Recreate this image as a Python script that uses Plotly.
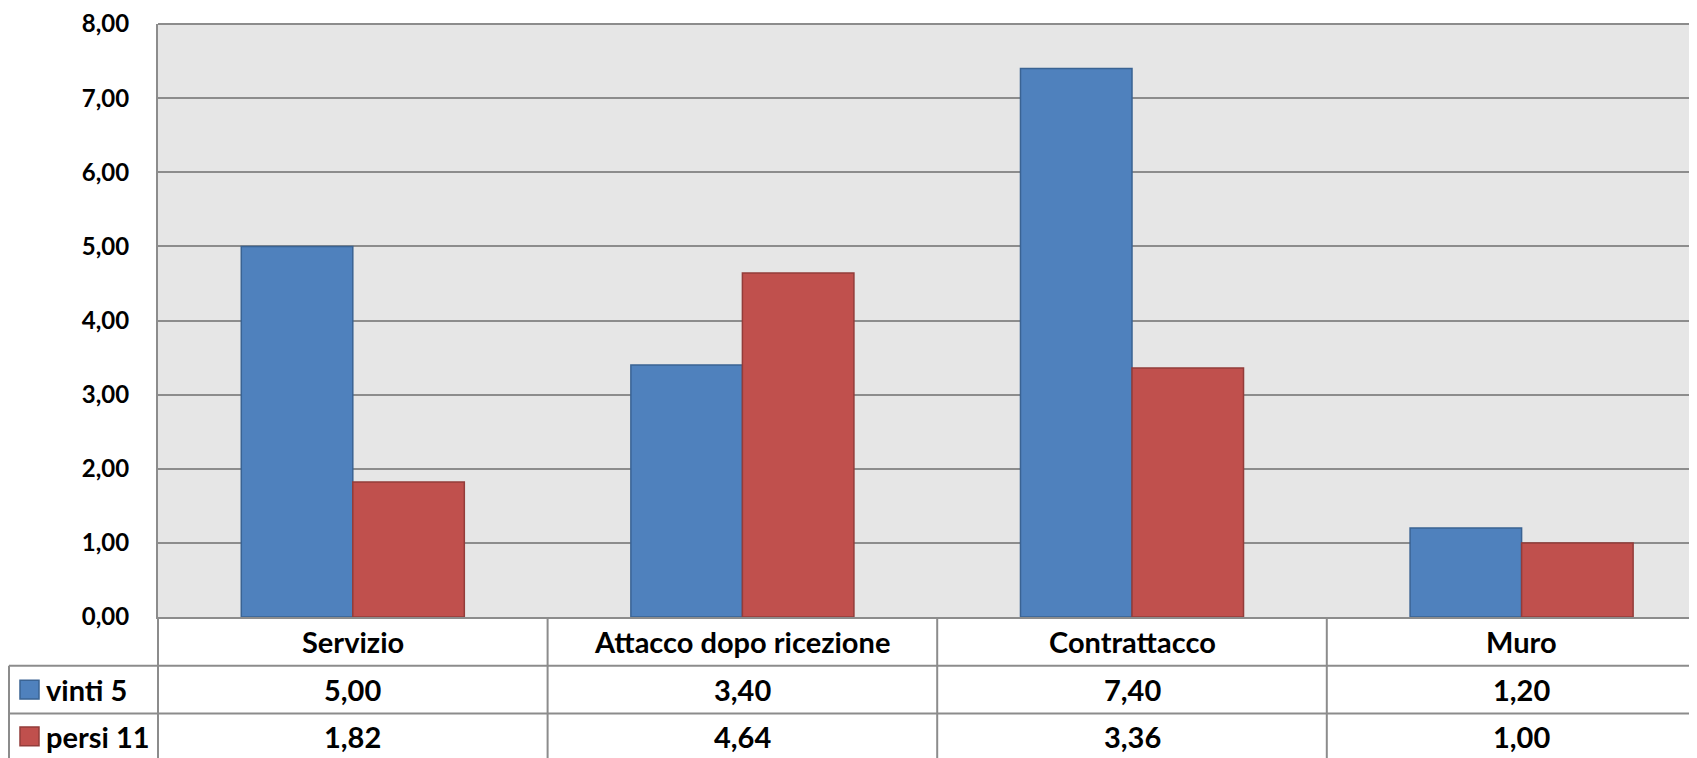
import plotly.graph_objects as go

# ---- data ----
categories = ["Servizio", "Attacco dopo ricezione", "Contrattacco", "Muro"]
series_names = ["vinti 5", "persi 11"]
vinti = [5.00, 3.40, 7.40, 1.20]
persi = [1.82, 4.64, 3.36, 1.00]
y_ticks = [0, 1, 2, 3, 4, 5, 6, 7, 8]

series_values = [vinti, persi]
fill_colors = ["#4F81BD", "#C0504D"]
line_colors = ["#3A6393", "#933C3A"]

# ---- geometry (page has an 8px body margin) ----
OFF = 8
W, H = 1697 - OFF, 758 - OFF
ML, MR, MT, MB = 158 - OFF, 0, 21 - OFF, 758 - 617
plot_w = W - ML - MR
plot_h = H - MT - MB
col_px = 389.6
x_max = -0.5 + plot_w / col_px

def px_x(vx):
    return (vx - OFF - ML) / plot_w

def px_y(vy):
    return (H - MB - (vy - OFF)) / plot_h

def fmt(v):
    return f"{v:.2f}".replace(".", ",")

GRID = "#8C8C8C"
FONT = "Lato"
TSIZE = 29

fig = go.Figure()
for name, vals, fc, lc in zip(series_names, series_values, fill_colors, line_colors):
    fig.add_trace(go.Bar(
        x=categories, y=vals, name=name,
        marker=dict(color=fc, line=dict(color=lc, width=1.5)),
        hoverinfo="skip",
    ))

shapes = []
annotations = []

# top border of plot area (gridline at the max)
shapes.append(dict(type="line", xref="paper", yref="paper", layer="below",
                   x0=0, x1=1.01, y0=1, y1=1, line=dict(color=GRID, width=2)))

# table horizontal lines
for vy in (666, 714):
    shapes.append(dict(type="line", xref="paper", yref="paper",
                       x0=px_x(9), x1=1.01, y0=px_y(vy), y1=px_y(vy),
                       line=dict(color=GRID, width=2)))
# table left edge
shapes.append(dict(type="line", xref="paper", yref="paper",
                   x0=px_x(9), x1=px_x(9), y0=px_y(666), y1=px_y(770),
                   line=dict(color=GRID, width=2)))
# axis extension down through the table
shapes.append(dict(type="line", xref="paper", yref="paper",
                   x0=0, x1=0, y0=px_y(617), y1=px_y(770),
                   line=dict(color=GRID, width=2)))
# category separators
for i in range(len(categories) - 1):
    shapes.append(dict(type="line", xref="x", yref="paper",
                       x0=i + 0.5, x1=i + 0.5, y0=px_y(617), y1=px_y(770),
                       line=dict(color=GRID, width=2)))

# category header labels
for c in categories:
    annotations.append(dict(xref="x", yref="paper", x=c, y=px_y(641.5),
                            text=c, showarrow=False, xanchor="center", yanchor="middle",
                            font=dict(family=FONT, size=TSIZE, color="black", weight="bold")))

row_centers = [690, 737]
for r, (name, vals, fc, lc) in enumerate(zip(series_names, series_values, fill_colors, line_colors)):
    yc = row_centers[r]
    for c, v in zip(categories, vals):
        annotations.append(dict(xref="x", yref="paper", x=c, y=px_y(yc),
                                text=fmt(v), showarrow=False, xanchor="center", yanchor="middle",
                                font=dict(family=FONT, size=TSIZE, color="black", weight="bold")))
    # legend key
    shapes.append(dict(type="rect", xref="paper", yref="paper",
                       x0=px_x(20), x1=px_x(39), y0=px_y(yc + 9.5), y1=px_y(yc - 9.5),
                       fillcolor=fc, line=dict(color=lc, width=1.5)))
    annotations.append(dict(xref="paper", yref="paper", x=px_x(44), y=px_y(yc),
                            text=name, showarrow=False, xanchor="left", yanchor="middle",
                            font=dict(family=FONT, size=TSIZE, color="black", weight="bold")))

fig.update_layout(
    width=W, height=H,
    margin=dict(l=ML, r=MR, t=MT, b=MB, pad=0),
    paper_bgcolor="white",
    plot_bgcolor="#E6E6E6",
    barmode="group",
    bargap=0.4275,
    bargroupgap=0,
    showlegend=False,
    separators=",.",
    shapes=shapes,
    annotations=annotations,
    xaxis=dict(range=[-0.5, x_max], showticklabels=False, showgrid=False,
               zeroline=False, showline=True, linecolor=GRID, linewidth=2, ticks=""),
    yaxis=dict(range=[0, 8], tickvals=y_ticks, tickformat=".2f",
               showgrid=True, gridcolor=GRID, gridwidth=2,
               zeroline=False, showline=True, linecolor=GRID, linewidth=2,
               ticks="outside", ticklen=22, tickcolor="rgba(0,0,0,0)",
               ticklabeloverflow="allow",
               tickfont=dict(family=FONT, size=24, color="black", weight="bold")),
)

fig.write_html("out.html")
